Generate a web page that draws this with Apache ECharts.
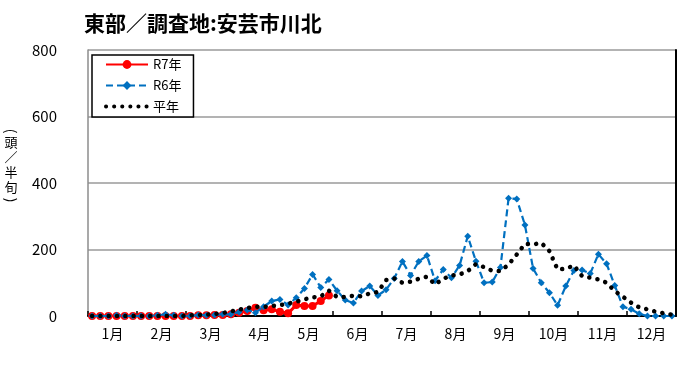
<!DOCTYPE html>
<html>
<head>
<meta charset="utf-8">
<script src="https://cdn.jsdelivr.net/npm/echarts@6/dist/echarts.min.js"></script>
<style>
html,body{margin:0;padding:0;background:#fff;}
#chart{width:700px;height:366px;}
</style>
</head>
<body>
<div id="chart"></div>
<script>
// ---- data ----
const months = ['1月','2月','3月','4月','5月','6月','7月','8月','9月','10月','11月','12月'];
const periodsPerMonth = 6;
const categories = [];
for (let m = 1; m <= 12; m++) for (let p = 1; p <= periodsPerMonth; p++) categories.push(m + '月第' + p + '半旬');

const yTicks = [0, 200, 400, 600, 800];

const r7 = [0,0,0,0,0,0,0,0,0,0,0,0,0,2,2,3,
  3,5,10,15,25,17,20,13,8,33,30,30,45,62];

const r6 = [0,0,0,2,0,0,0,0,2,5,2,0,0,3,2,3,
  5,5,12,18,10,28,45,50,33,55,83,125,86,110,
  76,48,39,75,90,62,79,113,164,122,164,182,
  106,140,115,152,240,165,100,102,146,354,352,274,
  143,100,70,32,90,137,138,128,186,157,92,28,
  20,7,0,0,0,0];

const normal = [0,0,0,0,0,0,0,0,0,0,0,0,2,3,4,
  6,9,14,19,24,28,27,30,33,37,43,50,56,59,76,
  57,57,61,59,68,72,108,113,100,103,112,118,
  95,112,122,125,135,156,147,136,135,155,185,217,
  215,220,195,140,142,152,120,115,110,100,75,58,
  40,26,20,13,8,4];

const seriesNames = ['R7年', 'R6年', '平年'];

// ---- chart ----
const FONT = '"Noto Sans CJK JP", "Noto Sans", sans-serif';
const chart = echarts.init(document.getElementById('chart'), null, {renderer: 'canvas'});
const option = {
  animation: false,
  backgroundColor: '#fff',
  textStyle: {fontFamily: FONT},
  title: {
    text: '東部／調査地:安芸市川北',
    left: 79, top: 8,
    textStyle: {fontFamily: FONT, fontSize: 21, fontWeight: 'bold', color: '#000'}
  },
  graphic: [{
    type: 'group',
    x: 11, y: 131,
    rotation: -Math.PI / 2,
    children: [{
      type: 'text',
      x: 0, y: 0,
      style: {text: '(', font: '14px ' + FONT, fill: '#000', align: 'center', verticalAlign: 'middle'}
    }]
  }, {
    type: 'text',
    x: 11, y: 165,
    style: {
      text: '頭\n／\n半\n旬',
      font: '13px ' + FONT,
      lineHeight: 15,
      fill: '#000',
      align: 'center',
      verticalAlign: 'middle'
    }
  }, {
    type: 'group',
    x: 11, y: 200,
    rotation: -Math.PI / 2,
    children: [{
      type: 'text',
      x: 0, y: 0,
      style: {text: ')', font: '14px ' + FONT, fill: '#000', align: 'center', verticalAlign: 'middle'}
    }]
  }],
  legend: {
    data: [
      {name: seriesNames[0]},
      {name: seriesNames[1]},
      {name: seriesNames[2], itemStyle: {opacity: 0}, lineStyle: {width: 4, type: [0.1, 8], cap: 'round'}}
    ],
    orient: 'vertical',
    left: 92, top: 55,
    padding: [3, 12, 4, 12],
    itemGap: 8,
    itemWidth: 42,
    itemHeight: 11,
    itemTextGap: 4,
    backgroundColor: '#fff',
    borderColor: '#000',
    borderWidth: 1.5,
    borderRadius: 0,
    textStyle: {fontFamily: FONT, fontSize: 13, color: '#000'}
  },
  grid: {left: 88, right: 24, top: 50, bottom: 50, containLabel: false},
  xAxis: [{
    type: 'category',
    data: categories,
    boundaryGap: true,
    axisLine: {show: true, lineStyle: {color: '#000', width: 2}},
    axisTick: {
      show: true, inside: true, length: 5,
      interval: function (idx) { return idx % periodsPerMonth === 0; },
      lineStyle: {color: '#000', width: 1.5}
    },
    axisLabel: {show: false},
    splitLine: {show: false}
  }, {
    type: 'category',
    data: months,
    position: 'bottom',
    boundaryGap: true,
    axisLine: {show: false},
    axisTick: {show: false},
    axisLabel: {show: true, margin: 11, fontFamily: FONT, fontSize: 14, color: '#000'},
    splitLine: {show: false}
  }],
  yAxis: [{
    type: 'value',
    min: yTicks[0], max: yTicks[yTicks.length - 1], interval: 200,
    axisLine: {show: true, lineStyle: {color: '#8c8c8c', width: 1.5}},
    axisTick: {show: false},
    axisLabel: {margin: 31, fontFamily: FONT, fontSize: 15, color: '#000'},
    splitLine: {show: true, lineStyle: {color: '#9a9a9a', width: 1.5}}
  }, {
    type: 'value',
    position: 'right',
    min: yTicks[0], max: yTicks[yTicks.length - 1], interval: 200,
    axisLine: {show: true, lineStyle: {color: '#000', width: 2}},
    axisTick: {show: false},
    axisLabel: {show: false},
    splitLine: {show: false}
  }],
  series: [{
    name: seriesNames[0],
    type: 'line',
    data: r7,
    xAxisIndex: 0, yAxisIndex: 0,
    symbol: 'circle', symbolSize: 8,
    showAllSymbol: true,
    itemStyle: {color: '#ff0000'},
    lineStyle: {color: '#ff0000', width: 3},
    z: 2
  }, {
    name: seriesNames[1],
    type: 'line',
    data: r6,
    xAxisIndex: 0, yAxisIndex: 0,
    symbol: 'diamond', symbolSize: 7,
    showAllSymbol: true,
    itemStyle: {color: '#0070c0'},
    lineStyle: {color: '#0070c0', width: 2.2, type: [7, 4]},
    z: 3
  }, {
    name: seriesNames[2],
    type: 'line',
    data: normal,
    xAxisIndex: 0, yAxisIndex: 0,
    symbol: 'none',
    itemStyle: {color: '#000'},
    lineStyle: {color: '#000', width: 4.5, type: [0.1, 8.2], cap: 'round'},
    z: 4
  }]
};
chart.setOption(option);
</script>
</body>
</html>
